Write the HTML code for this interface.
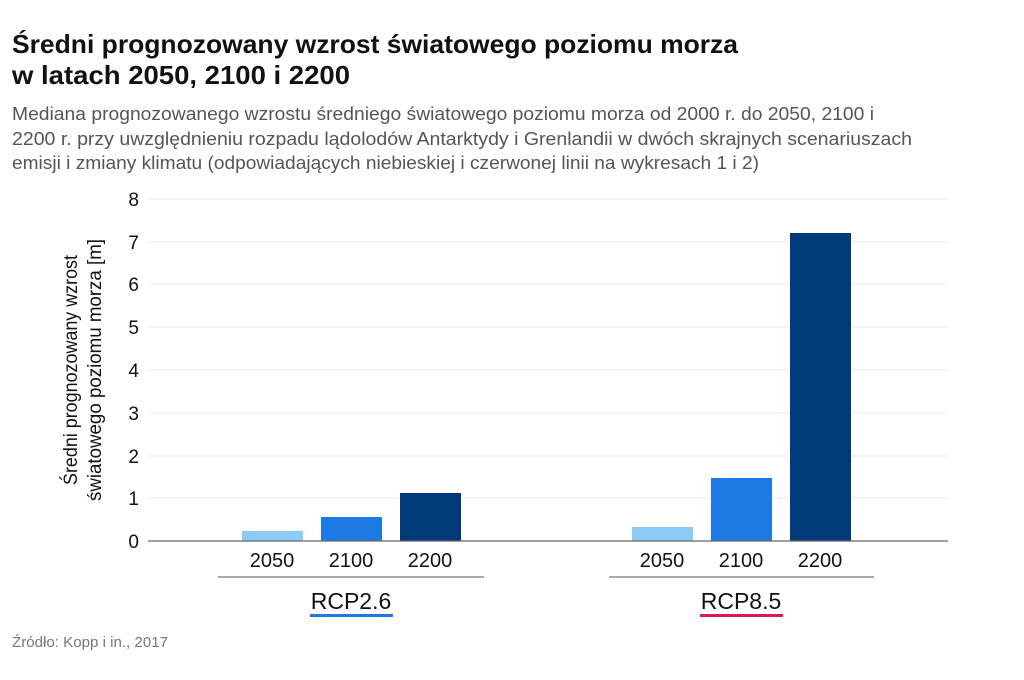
<!DOCTYPE html>
<html><head><meta charset="utf-8"><style>
body{margin:0;background:#fff;width:1024px;height:675px;overflow:hidden;font-family:"Liberation Sans",sans-serif;}
</style></head><body>
<svg width="1024" height="675" xmlns="http://www.w3.org/2000/svg" font-family="Liberation Sans, sans-serif">
<text x="12" y="53" font-size="26" font-weight="bold" fill="#111" textLength="726" lengthAdjust="spacingAndGlyphs">Średni prognozowany wzrost światowego poziomu morza</text>
<text x="12" y="84" font-size="26" font-weight="bold" fill="#111" textLength="338" lengthAdjust="spacingAndGlyphs">w latach 2050, 2100 i 2200</text>
<g font-size="18" fill="#555">
<text x="12" y="120" textLength="862" lengthAdjust="spacingAndGlyphs">Mediana prognozowanego wzrostu średniego światowego poziomu morza od 2000 r. do 2050, 2100 i</text>
<text x="12" y="145" textLength="900" lengthAdjust="spacingAndGlyphs">2200 r. przy uwzględnieniu rozpadu lądolodów Antarktydy i Grenlandii w dwóch skrajnych scenariuszach</text>
<text x="12" y="169" textLength="747" lengthAdjust="spacingAndGlyphs">emisji i zmiany klimatu (odpowiadających niebieskiej i czerwonej linii na wykresach 1 i 2)</text>
</g>
<g stroke="#eaeaea" stroke-width="1">
<line x1="148" x2="948" y1="199" y2="199"/><line x1="148" x2="948" y1="242" y2="242"/>
<line x1="148" x2="948" y1="284" y2="284"/><line x1="148" x2="948" y1="327" y2="327"/>
<line x1="148" x2="948" y1="370" y2="370"/><line x1="148" x2="948" y1="413" y2="413"/>
<line x1="148" x2="948" y1="456" y2="456"/><line x1="148" x2="948" y1="498" y2="498"/>
</g>
<g font-size="19" fill="#111" text-anchor="end">
<text x="139" y="206">8</text><text x="139" y="249">7</text><text x="139" y="291">6</text>
<text x="139" y="334">5</text><text x="139" y="377">4</text><text x="139" y="420">3</text>
<text x="139" y="463">2</text><text x="139" y="505">1</text><text x="139" y="548">0</text>
</g>
<g font-size="19" fill="#111" text-anchor="middle">
<text transform="translate(77,370) rotate(-90)" textLength="230" lengthAdjust="spacingAndGlyphs">Średni prognozowany wzrost</text>
<text transform="translate(101,370) rotate(-90)" textLength="262" lengthAdjust="spacingAndGlyphs">światowego poziomu morza [m]</text>
</g>
<rect x="242" y="531" width="61" height="10" fill="#8ccbf5"/>
<rect x="321" y="517" width="61" height="24" fill="#1b7ae4"/>
<rect x="400" y="493" width="61" height="48" fill="#003a78"/>
<rect x="632" y="527" width="61" height="14" fill="#8ccbf5"/>
<rect x="711" y="478" width="61" height="63" fill="#1b7ae4"/>
<rect x="790" y="233" width="61" height="308" fill="#003a78"/>
<line x1="148" x2="948" y1="541" y2="541" stroke="#666" stroke-width="1.3"/>
<g font-size="20" fill="#111" text-anchor="middle">
<text x="272" y="567">2050</text><text x="351" y="567">2100</text><text x="430" y="567">2200</text>
<text x="662" y="567">2050</text><text x="741" y="567">2100</text><text x="820" y="567">2200</text>
</g>
<line x1="218" x2="484" y1="577" y2="577" stroke="#555" stroke-width="1"/>
<line x1="609" x2="874" y1="577" y2="577" stroke="#555" stroke-width="1"/>
<g font-size="23" fill="#111" text-anchor="middle">
<text x="351" y="609">RCP2.6</text><text x="741" y="609">RCP8.5</text>
</g>
<rect x="310" y="614" width="83" height="3" fill="#1b7ae4"/>
<rect x="700" y="614" width="83" height="3" fill="#d81b5a"/>
<text x="12" y="647" font-size="15" fill="#777" textLength="156" lengthAdjust="spacingAndGlyphs">Źródło: Kopp i in., 2017</text>
</svg>
</body></html>
